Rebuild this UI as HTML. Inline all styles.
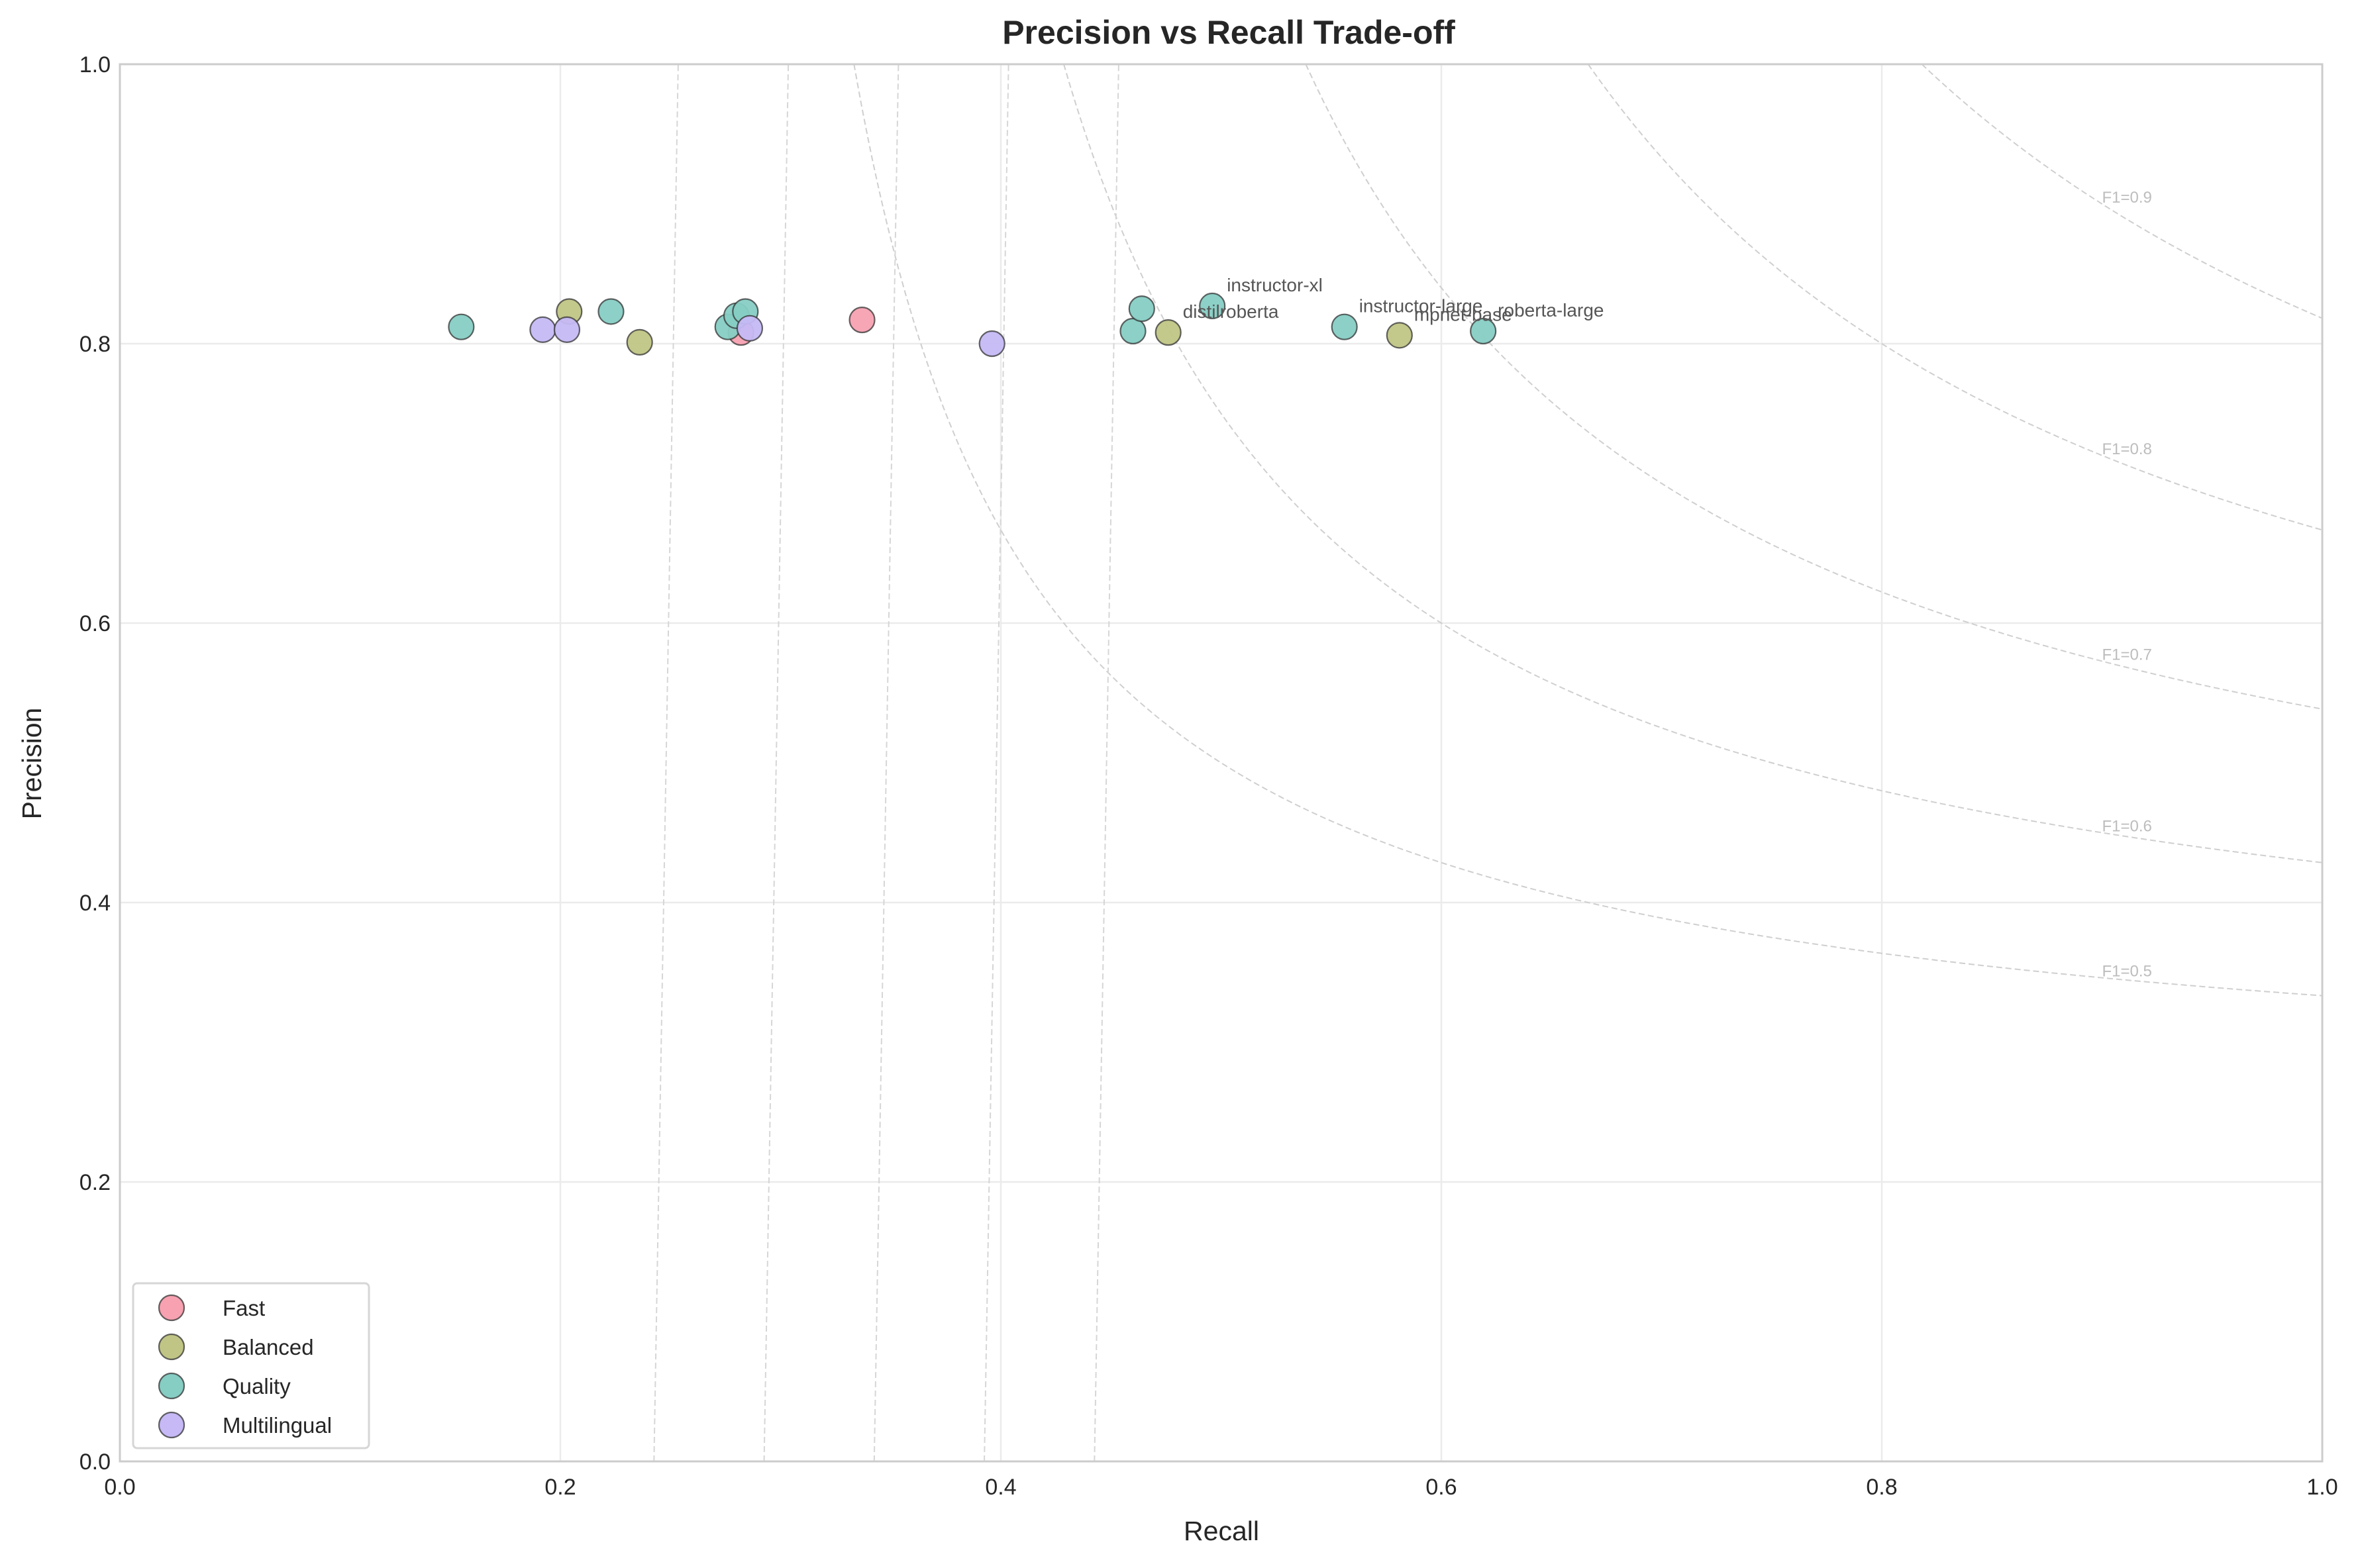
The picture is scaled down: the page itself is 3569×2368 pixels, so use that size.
<!DOCTYPE html>
<html><head><meta charset="utf-8">
<style>
html,body{margin:0;padding:0;background:#fff;}
svg{display:block;font-family:"Liberation Sans",Arial,sans-serif;}
</style></head>
<body>
<svg id="chart" width="3569" height="2368" viewBox="0 0 3569 2368" xmlns="http://www.w3.org/2000/svg">
<rect width="3569" height="2368" fill="#fff"/>
<g id="grid"></g>
<g id="f1"></g>
<g id="pts"></g>
<g id="labels"></g>
<g id="axes"></g>
<text x="1855" y="66" text-anchor="middle" font-size="50" font-weight="bold" fill="#262626">Precision vs Recall Trade-off</text>
<text x="1844" y="2326" text-anchor="middle" font-size="41" fill="#262626">Recall</text>
<text x="62" y="1153" text-anchor="middle" font-size="41" fill="#262626" transform="rotate(-90 62 1153)">Precision</text>
<g>
<rect x="201" y="1938" width="356" height="249" rx="6" fill="#fff" fill-opacity="0.8" stroke="#d6d6d6" stroke-width="3"/>
<g id="legend"></g>
</g>
</svg>
<script>
const categories = ["Fast","Balanced","Quality","Multilingual"];
const colors = ["#f7a1b1","#c0c585","#86cdc4","#c6b9f6"];
const fastRecall = [0.282,0.337];
const fastPrecision = [0.808,0.817];
const balancedRecall = [0.204,0.236,0.476,0.581];
const balancedPrecision = [0.823,0.801,0.808,0.806];
const qualityRecall = [0.155,0.223,0.276,0.280,0.284,0.460,0.464,0.496,0.556,0.619];
const qualityPrecision = [0.812,0.823,0.812,0.820,0.823,0.809,0.825,0.827,0.812,0.809];
const multiRecall = [0.192,0.203,0.286,0.396];
const multiPrecision = [0.810,0.810,0.811,0.800];
const annotNames = ["instructor-xl","distilroberta","instructor-large","mpnet-base","roberta-large"];
const annotRecall = [0.496,0.476,0.556,0.581,0.619];
const annotPrecision = [0.827,0.808,0.812,0.806,0.809];
const f1Levels = [0.5,0.6,0.7,0.8,0.9];
const ticks = [0,0.2,0.4,0.6,0.8,1.0];
const tickLabels = ["0.0","0.2","0.4","0.6","0.8","1.0"];

const X0=181,X1=3506,Y0=2207,Y1=97;
const sx=v=>X0+(X1-X0)*v;
const sy=v=>Y0-(Y0-Y1)*v;
const NS="http://www.w3.org/2000/svg";
function mk(tag,attrs,parent){const e=document.createElementNS(NS,tag);for(const k in attrs)e.setAttribute(k,attrs[k]);parent.appendChild(e);return e;}

const grid=document.getElementById('grid');
ticks.forEach(t=>{
  const gx=mk('line',{x1:sx(t),x2:sx(t),y1:Y1,y2:Y0,stroke:'#ebebeb','stroke-width':2.5},grid);
  
  
  const gy=mk('line',{x1:X0,x2:X1,y1:sy(t),y2:sy(t),stroke:'#ebebeb','stroke-width':2.5},grid);
  
  
});

const f1g=document.getElementById('f1');
f1Levels.forEach(f=>{
  let pts=[];
  const rStart=f/(2-f);
  for(let i=0;i<=400;i++){const r=rStart+(1-rStart)*i/400;const p=f*r/(2*r-f);pts.push(sx(r).toFixed(1)+','+sy(Math.min(p,1)).toFixed(1));}
  const pl=mk('polyline',{points:pts.join(' '),fill:'none',stroke:'#cfcfcf','stroke-width':2,'stroke-dasharray':'9,5'},f1g);
  
  
  const v=mk('line',{x1:sx(f/2-0.0075),y1:sy(0),x2:sx(f/2+0.0035),y2:sy(1),stroke:'#d6d6d6','stroke-width':2,'stroke-dasharray':'9,5'},f1g);
  
  
  const lp=f*0.9/(1.8-f);
  const t=mk('text',{x:sx(0.9),y:sy(lp)-2,'font-size':24,fill:'#bdbdbd'},f1g);
  t.textContent='F1='+f;
  
  
});

const ptsG=document.getElementById('pts');
const series=[[fastRecall,fastPrecision],[balancedRecall,balancedPrecision],[qualityRecall,qualityPrecision],[multiRecall,multiPrecision]];
series.forEach((s,ci)=>{
  s[0].forEach((r,i)=>{
    const c=mk('circle',{cx:sx(r),cy:sy(s[1][i]),r:19,fill:colors[ci],'fill-opacity':0.95,stroke:'#333','stroke-opacity':0.75,'stroke-width':2.2},ptsG);
    
    
  });
});

const lab=document.getElementById('labels');
annotNames.forEach((n,i)=>{
  const t=mk('text',{x:sx(annotRecall[i])+22,y:sy(annotPrecision[i])-22,'font-size':28,fill:'#555'},lab);
  t.textContent=n;
  
  
});

const ax=document.getElementById('axes');
mk('rect',{x:X0,y:Y1,width:X1-X0,height:Y0-Y1,fill:'none',stroke:'#cccccc','stroke-width':3},ax);
ticks.forEach((t,i)=>{
  const a=mk('text',{x:sx(t),y:Y0+50,'text-anchor':'middle','font-size':34,fill:'#262626'},ax);
  a.textContent=tickLabels[i];
  
  
  const b=mk('text',{x:X0-14,y:sy(t)+12,'text-anchor':'end','font-size':34,fill:'#262626'},ax);
  b.textContent=tickLabels[i];
  
  
});

const lg=document.getElementById('legend');
categories.forEach((c,i)=>{
  const y=1975+59*i;
  const m=mk('circle',{cx:259,cy:y,r:19,fill:colors[i],stroke:'#333','stroke-opacity':0.75,'stroke-width':2.2},lg);
  
  
  const t=mk('text',{x:336,y:y+12,'font-size':33,fill:'#262626'},lg);
  t.textContent=c;
  
  
});
</script>
</body></html>
